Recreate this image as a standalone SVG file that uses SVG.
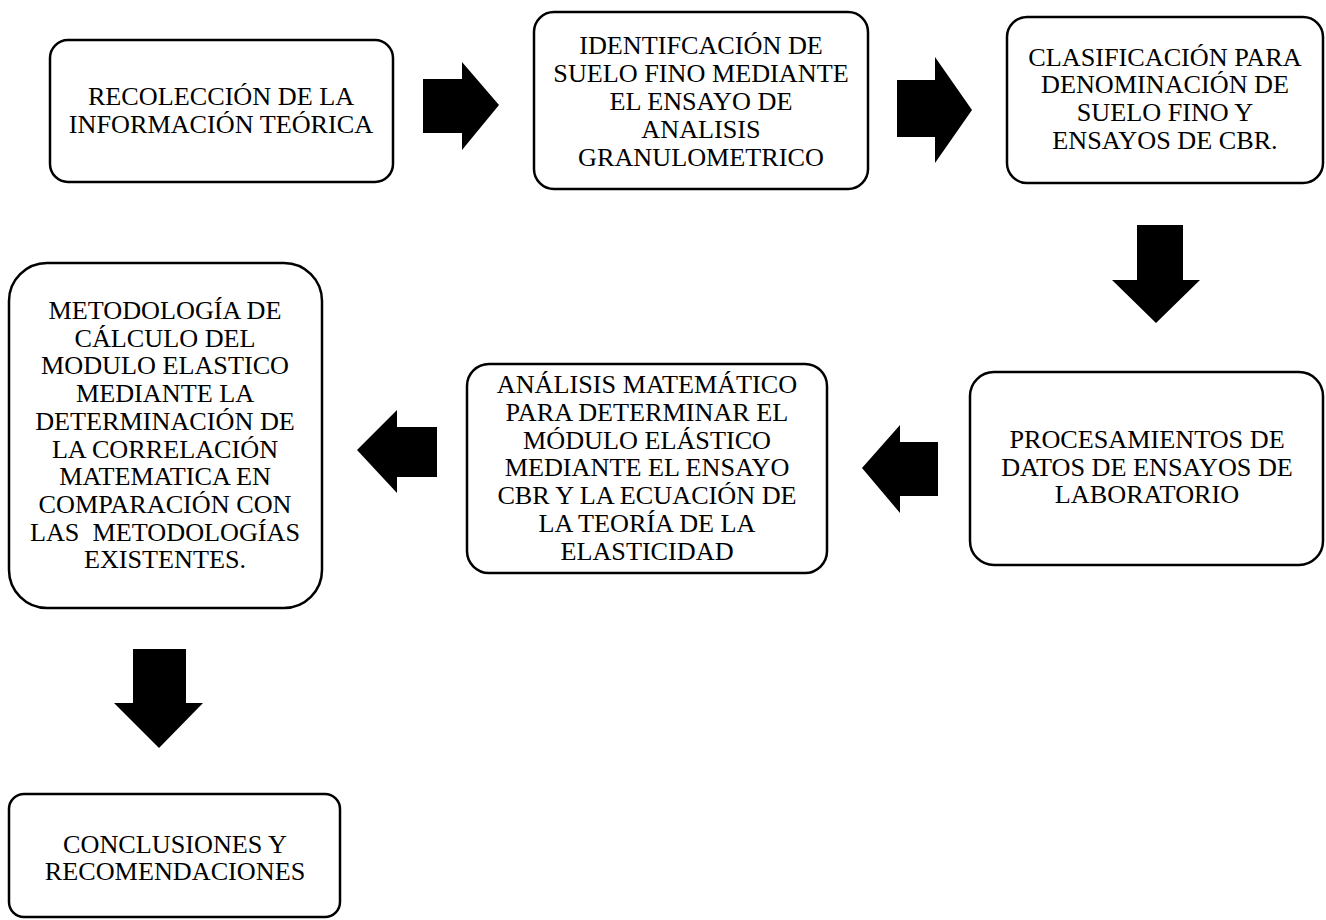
<svg xmlns="http://www.w3.org/2000/svg" width="1326" height="920" viewBox="0 0 1326 920">
<style>
.box{fill:#fff;stroke:#000;stroke-width:2.5}
.t{font-family:"Liberation Serif","Times New Roman",serif;font-size:26.2px;fill:#000;text-anchor:middle}
.arr{fill:#000}
</style>
<rect width="1326" height="920" fill="#fff"/>
<g id="connectors">
<polygon class="arr" points="423,79 462,79 462,62 499,105 462,150 462,133 423,133"/>
<polygon class="arr" points="897,80 935,80 935,57 972,110 935,163 935,137 897,137"/>
<polygon class="arr" points="1137,225 1183,225 1183,280 1200,280 1156,323 1112,280 1137,280"/>
<polygon class="arr" points="938,442 900,442 900,425 862,468 900,513 900,496 938,496"/>
<polygon class="arr" points="437,427 397,427 397,410 357,450 397,493 397,477 437,477"/>
<polygon class="arr" points="133,649 186,649 186,703 203,703 159,748 114,703 133,703"/>
</g>
<g id="n1">
<rect class="box" x="50" y="40" width="343" height="142" rx="18"/>
<text class="t" x="221" y="105">RECOLECCIÓN DE LA</text>
<text class="t" x="221" y="133">INFORMACIÓN TEÓRICA</text>
</g>
<g id="n2">
<rect class="box" x="534" y="12" width="334" height="177" rx="20"/>
<text class="t" x="701" y="54">IDENTIFCACIÓN DE</text>
<text class="t" x="701" y="82">SUELO FINO MEDIANTE</text>
<text class="t" x="701" y="110">EL ENSAYO DE</text>
<text class="t" x="701" y="138">ANALISIS</text>
<text class="t" x="701" y="166">GRANULOMETRICO</text>
</g>
<g id="n3">
<rect class="box" x="1007" y="17" width="316" height="166" rx="20"/>
<text class="t" x="1165" y="65.5">CLASIFICACIÓN PARA</text>
<text class="t" x="1165" y="93.2">DENOMINACIÓN DE</text>
<text class="t" x="1165" y="120.9">SUELO FINO Y</text>
<text class="t" x="1165" y="148.6">ENSAYOS DE CBR.</text>
</g>
<g id="n4">
<rect class="box" x="970" y="372" width="353" height="193" rx="24"/>
<text class="t" x="1147" y="448">PROCESAMIENTOS DE</text>
<text class="t" x="1147" y="475.7">DATOS DE ENSAYOS DE</text>
<text class="t" x="1147" y="503.4">LABORATORIO</text>
</g>
<g id="n5">
<rect class="box" x="467" y="364" width="360" height="209" rx="22"/>
<text class="t" x="647" y="393">ANÁLISIS MATEMÁTICO</text>
<text class="t" x="647" y="420.8">PARA DETERMINAR EL</text>
<text class="t" x="647" y="448.6">MÓDULO ELÁSTICO</text>
<text class="t" x="647" y="476.4">MEDIANTE EL ENSAYO</text>
<text class="t" x="647" y="504.2">CBR Y LA ECUACIÓN DE</text>
<text class="t" x="647" y="532">LA TEORÍA DE LA</text>
<text class="t" x="647" y="559.8">ELASTICIDAD</text>
</g>
<g id="n6">
<rect class="box" x="9" y="263" width="313" height="345" rx="38"/>
<text class="t" x="165" y="319">METODOLOGÍA DE</text>
<text class="t" x="165" y="346.7">CÁLCULO DEL</text>
<text class="t" x="165" y="374.4">MODULO ELASTICO</text>
<text class="t" x="165" y="402.1">MEDIANTE LA</text>
<text class="t" x="165" y="429.8">DETERMINACIÓN DE</text>
<text class="t" x="165" y="457.5">LA CORRELACIÓN</text>
<text class="t" x="165" y="485.2">MATEMATICA EN</text>
<text class="t" x="165" y="512.9">COMPARACIÓN CON</text>
<text class="t" x="165" y="540.6" xml:space="preserve">LAS  METODOLOGÍAS</text>
<text class="t" x="165" y="568.3">EXISTENTES.</text>
</g>
<g id="n7">
<rect class="box" x="9" y="794" width="331" height="123" rx="15"/>
<text class="t" x="175" y="852.5">CONCLUSIONES Y</text>
<text class="t" x="175" y="880.3">RECOMENDACIONES</text>
</g>
</svg>
